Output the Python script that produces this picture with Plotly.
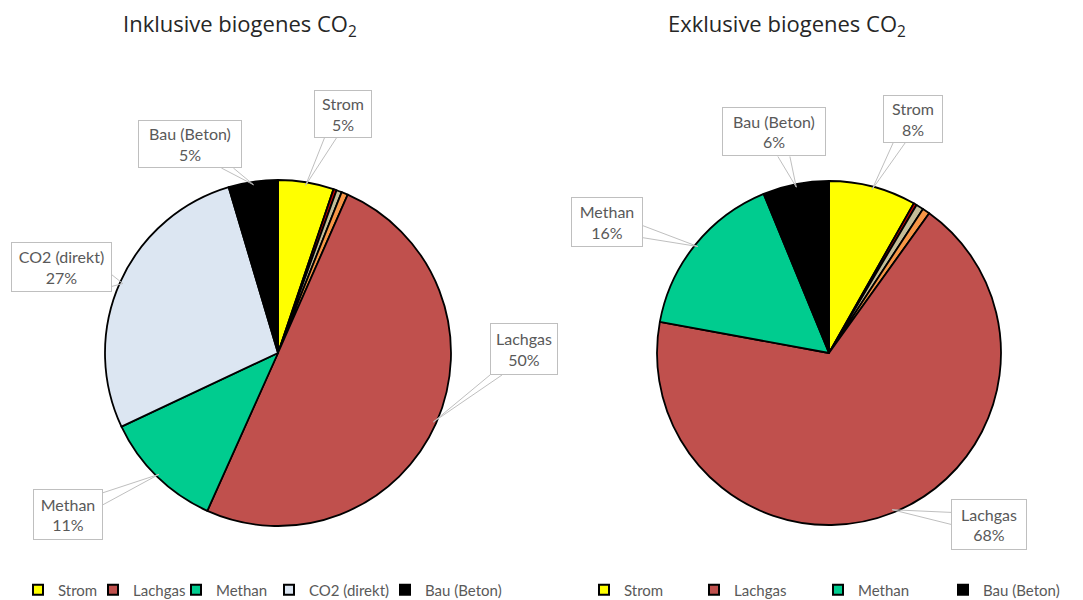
import math
import plotly.graph_objects as go

W, H = 1083, 600

# ---- data ----
labels_left = ["Strom", "Sonstige A", "Sonstige B", "Sonstige C", "Lachgas", "Methan", "CO2 (direkt)", "Bau (Beton)"]
values_left = [5.2, 0.3, 0.5, 0.6, 50.1, 11.3, 27.4, 4.6]

labels_right = ["Strom", "Sonstige A", "Sonstige B", "Sonstige C", "Lachgas", "Methan", "Bau (Beton)"]
values_right = [8.2, 0.3, 0.7, 0.7, 68.0, 15.9, 6.2]

legend_left = ["Strom", "Lachgas", "Methan", "CO2 (direkt)", "Bau (Beton)"]
legend_right = ["Strom", "Lachgas", "Methan", "Bau (Beton)"]

colors = {
    "Strom": "#FFFF00",
    "Sonstige A": "#C00000",
    "Sonstige B": "#C4BD97",
    "Sonstige C": "#F79646",
    "Lachgas": "#C0504D",
    "Methan": "#00CC8F",
    "CO2 (direkt)": "#DCE6F2",
    "Bau (Beton)": "#000000",
}

titles = ["Inklusive biogenes CO<sub>2</sub>", "Exklusive biogenes CO<sub>2</sub>"]

# ---- layout geometry (pixels) ----
pies = [
    dict(cx=278, cy=353, r=172, labels=labels_left, values=values_left, title=titles[0], tx=240,
         boxes={"Strom": (343, 114, 58, 48), "Bau (Beton)": (190, 144, 104, 48),
                "CO2 (direkt)": (61, 267, 101, 50), "Lachgas": (524, 349, 68, 52),
                "Methan": (68, 514, 70, 51)},
         legend_x=[37, 112, 195, 288, 404]),
    dict(cx=829, cy=353, r=171, labels=labels_right, values=values_right, title=titles[1], tx=787,
         boxes={"Strom": (913, 119, 60, 48), "Bau (Beton)": (774, 132, 104, 49),
                "Methan": (607, 222, 72, 50), "Lachgas": (989, 524, 76, 51)},
         legend_x=[603, 713, 837, 962]),
]

label_font = dict(family="Lato", size=16, color="#595959")
line_col = "#BFBFBF"

fig = go.Figure()
annotations = []
shapes = []


def wedge_base(bx, by, bw, bh, hx, hy, half=6):
    dx, dy = hx - bx, hy - by
    tx = (bw / 2) / abs(dx) if dx else float("inf")
    ty = (bh / 2) / abs(dy) if dy else float("inf")
    if tx < ty:  # hits vertical edge
        ex = bx + math.copysign(bw / 2, dx)
        ey = by + dy * tx
        ey = min(max(ey, by - bh / 2 + half), by + bh / 2 - half)
        return (ex, ey - half), (ex, ey + half)
    ey = by + math.copysign(bh / 2, dy)
    ex = bx + dx * ty
    ex = min(max(ex, bx - bw / 2 + half), bx + bw / 2 - half)
    return (ex - half, ey), (ex + half, ey)


legend_no = 0
for p in pies:
    rd = p["r"] + 1
    dom_x = [(p["cx"] - rd) / W, (p["cx"] + rd) / W]
    dom_y = [1 - (p["cy"] + rd) / H, 1 - (p["cy"] - rd) / H]
    fig.add_trace(go.Pie(
        labels=p["labels"], values=p["values"], sort=False, direction="clockwise", rotation=0,
        marker=dict(colors=[colors[l] for l in p["labels"]], line=dict(color="#000000", width=1.8)),
        textinfo="none", hoverinfo="label+percent", showlegend=False,
        domain=dict(x=dom_x, y=dom_y),
    ))
    total = sum(p["values"])
    cum = 0.0
    for lab, v in zip(p["labels"], p["values"]):
        mid = (cum + v / 2) / total * 2 * math.pi
        cum += v
        if lab not in p["boxes"]:
            continue
        hx = p["cx"] + (p["r"] - 2) * math.sin(mid)
        hy = p["cy"] - (p["r"] - 2) * math.cos(mid)
        bx, by, bw, bh = p["boxes"][lab]
        pct = round(v / total * 100)
        annotations.append(dict(
            x=bx / W, y=1 - by / H, xref="paper", yref="paper", showarrow=False,
            text=f"{lab}<br>{pct}%", bgcolor="#FFFFFF", bordercolor=line_col, borderwidth=1,
            borderpad=0, width=bw - 2, height=bh - 2, align="center", valign="middle",
            font=label_font, xanchor="center", yanchor="middle",
        ))
        for (ex, ey) in wedge_base(bx, by, bw, bh, hx, hy):
            shapes.append(dict(type="line", xref="paper", yref="paper",
                               x0=ex / W, y0=1 - ey / H, x1=hx / W, y1=1 - hy / H,
                               line=dict(color=line_col, width=1), layer="above"))
    annotations.append(dict(
        x=p["tx"] / W, y=1 - 25 / H, xref="paper", yref="paper", showarrow=False,
        text=p["title"], font=dict(family="Open Sans", size=22, color="#262626"),
        xanchor="center", yanchor="middle",
    ))

# legend entries: one small legend per entry, placed under its pie
legend_layouts = {}
for names, p in ((legend_left, pies[0]), (legend_right, pies[1])):
    for lab, sx in zip(names, p["legend_x"]):
        legend_no += 1
        key = "legend" if legend_no == 1 else f"legend{legend_no}"
        fig.add_trace(go.Scatter(x=[None], y=[None], mode="markers", name=lab, legend=key,
                                 marker=dict(symbol="square", size=10, color=colors[lab],
                                             line=dict(color="#000000", width=2))))
        legend_layouts[key] = dict(
            orientation="h", x=(sx - 19) / W, y=1 - 590 / H, xanchor="left", yanchor="middle",
            font=dict(family="Lato", size=15, color="#595959"), itemwidth=30,
            bgcolor="rgba(0,0,0,0)", borderwidth=0,
        )

fig.update_layout(
    width=W, height=H, autosize=False,
    margin=dict(l=0, r=0, t=0, b=0, autoexpand=False),
    paper_bgcolor="#FFFFFF", plot_bgcolor="#FFFFFF",
    xaxis=dict(visible=False), yaxis=dict(visible=False),
    annotations=annotations, shapes=shapes,
    **legend_layouts,
)

fig.write_html("out.html", post_script="document.body.style.margin='0';",
               config={"displayModeBar": False})
